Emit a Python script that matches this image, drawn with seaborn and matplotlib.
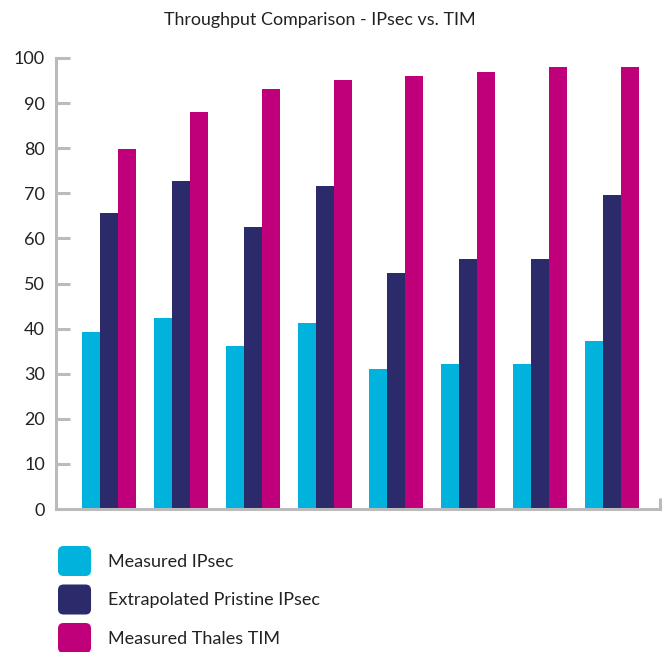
import matplotlib
matplotlib.use("Agg")
import matplotlib.pyplot as plt
from matplotlib.patches import FancyBboxPatch
from matplotlib.legend_handler import HandlerPatch
import seaborn as sns
import pandas as pd

# Throughput per test case (%), three series
groups = ["1", "2", "3", "4", "5", "6", "7", "8"]
measured_ipsec = [39.3, 42.4, 36.2, 41.3, 31.1, 32.2, 32.2, 37.3]
extrapolated_ipsec = [65.6, 72.7, 62.5, 71.6, 52.3, 55.4, 55.4, 69.6]
measured_tim = [79.8, 88.0, 93.1, 95.1, 96.0, 97.0, 98.0, 98.0]

series_names = ["Measured IPsec", "Extrapolated Pristine IPsec", "Measured Thales TIM"]
colors = ["#00B2DC", "#2B2A6B", "#C0007A"]
y_ticks = [0, 10, 20, 30, 40, 50, 60, 70, 80, 90, 100]

df = pd.DataFrame({
    "group": groups * 3,
    "series": [series_names[0]] * 8 + [series_names[1]] * 8 + [series_names[2]] * 8,
    "value": measured_ipsec + extrapolated_ipsec + measured_tim,
})

sns.set_theme(style="white")
plt.rcParams["font.family"] = ["Lato", "DejaVu Sans"]

fig = plt.figure(figsize=(6.68, 6.52), dpi=100)
ax = fig.add_axes([56 / 668, 1 - 509 / 652, (660 - 56) / 668, (509 - 58) / 652])

sns.barplot(data=df, x="group", y="value", hue="series", hue_order=series_names,
            palette=colors, width=0.75, saturation=1, errorbar=None,
            legend=False, ax=ax, linewidth=0)

axis_gray = "#BBBBBB"
ax.set_ylim(0, 100)
ax.set_xlim(-0.74, 7.67)
ax.set_yticks(y_ticks)
ax.set_xticks([7.67])
ax.set_xticklabels([])
ax.set_xlabel("")
ax.set_ylabel("")
for side in ("top", "right"):
    ax.spines[side].set_visible(False)
for side in ("left", "bottom"):
    ax.spines[side].set_color(axis_gray)
    ax.spines[side].set_linewidth(2.2)
ax.tick_params(axis="y", direction="in", length=10, width=2.2, color=axis_gray,
               pad=8, labelsize=13, labelcolor="#222222", left=True)
ax.tick_params(axis="x", direction="in", length=8, width=2.2, color=axis_gray, bottom=True)

fig.text(320 / 668, 1 - 20 / 652, "Throughput Comparison - IPsec vs. TIM",
         ha="center", va="center", fontsize=12.9, color="#222222")


class RoundedHandler(HandlerPatch):
    def create_artists(self, legend, orig_handle, xdescent, ydescent, width, height,
                       fontsize, trans):
        p = FancyBboxPatch((-xdescent, -ydescent), width, height,
                           boxstyle="round,pad=0,rounding_size=4",
                           facecolor=orig_handle.get_facecolor(), edgecolor="none",
                           transform=trans)
        return [p]


handles = [plt.Rectangle((0, 0), 1, 1, facecolor=c) for c in colors]
leg = fig.legend(handles, series_names, loc="upper left",
                 bbox_to_anchor=(58 / 668, 1 - 546 / 652), bbox_transform=fig.transFigure,
                 frameon=False, fontsize=13, handlelength=1.83, handleheight=2.18,
                 handletextpad=0.94, labelspacing=0.47, borderpad=0, borderaxespad=0,
                 handler_map={plt.Rectangle: RoundedHandler()})
for t in leg.get_texts():
    t.set_color("#222222")

fig.savefig("out.png", dpi=100)
